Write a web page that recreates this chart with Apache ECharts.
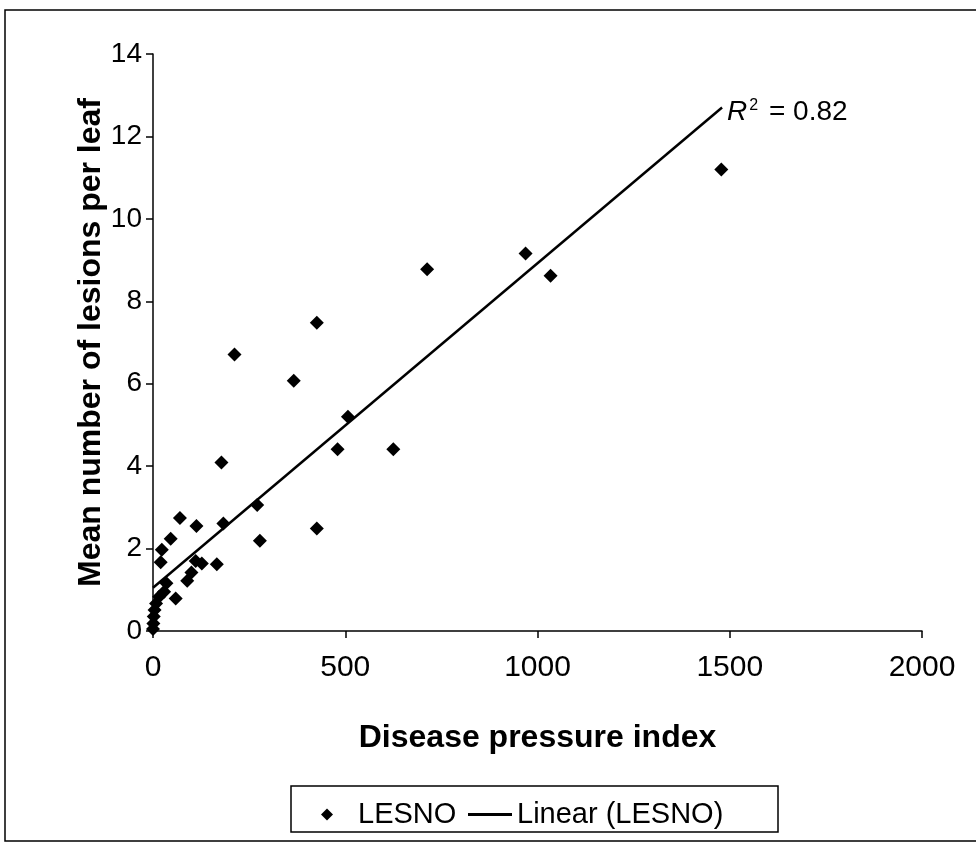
<!DOCTYPE html>
<html>
<head>
<meta charset="utf-8">
<script src="https://cdn.jsdelivr.net/npm/echarts@6/dist/echarts.min.js"></script>
<style>
  html, body { margin: 0; padding: 0; background: #fff; }
  #chart { width: 976px; height: 845px; }
</style>
</head>
<body>
<div id="chart"></div>
<script>
// disease pressure index vs. mean lesions per leaf
const pressure = [1478, 1034, 969, 713, 625, 507, 480, 426, 426, 366, 278, 271, 212, 183, 178, 166, 127, 113, 111, 100, 89, 70, 59, 46, 35, 29, 23, 20, 16, 8, 4, 2, 1, 0]
const lesions = [11.2, 8.62, 9.16, 8.78, 4.41, 5.20, 4.41, 7.48, 2.49, 6.07, 2.19, 3.06, 6.71, 2.61, 4.09, 1.62, 1.64, 2.55, 1.70, 1.42, 1.22, 2.74, 0.79, 2.24, 1.16, 0.95, 1.97, 1.67, 0.83, 0.67, 0.51, 0.35, 0.18, 0.05]

// trend line end points as drawn
const trendX = [0, 1480]
const trendY = [1.05, 12.7]
const r2Text = '0.82'

const xTicks = [0, 500, 1000, 1500, 2000]
const yTicks = [0, 2, 4, 6, 8, 10, 12, 14]

const font = "'Liberation Sans', Arial, sans-serif"

const chart = echarts.init(document.getElementById('chart'))

const scatterData = pressure.map((x, i) => [x, lesions[i]])
const trendData = trendX.map((x, i) => [x, trendY[i]])

const option = {
  animation: false,
  backgroundColor: '#fff',
  grid: {
    left: 153,
    right: 54,
    top: 54,
    bottom: 214
  },
  xAxis: {
    type: 'value',
    min: xTicks[0],
    max: xTicks[xTicks.length - 1],
    interval: 500,
    name: 'Disease pressure index',
    nameLocation: 'middle',
    nameGap: 91,
    nameMoveOverlap: false,
    nameTextStyle: { fontFamily: font, fontSize: 32, fontWeight: 'bold', color: '#000' },
    axisLine: { lineStyle: { color: '#000', width: 1.5 } },
    axisTick: { show: true, length: 7, lineStyle: { color: '#000', width: 1.5 } },
    axisLabel: { fontFamily: font, fontSize: 30, color: '#000', margin: 22, formatter: v => String(v) },
    splitLine: { show: false }
  },
  yAxis: {
    type: 'value',
    min: yTicks[0],
    max: yTicks[yTicks.length - 1],
    interval: 2,
    name: 'Mean number of lesions per leaf',
    nameLocation: 'middle',
    nameGap: 46,
    nameMoveOverlap: false,
    nameTextStyle: { fontFamily: font, fontSize: 32, fontWeight: 'bold', color: '#000' },
    axisLine: { show: true, lineStyle: { color: '#000', width: 1.5 } },
    axisTick: { show: true, length: 7, lineStyle: { color: '#000', width: 1.5 } },
    axisLabel: { fontFamily: font, fontSize: 28, color: '#000', margin: 11, formatter: v => String(v) },
    splitLine: { show: false }
  },
  legend: [{
    data: [{ name: 'LESNO', icon: 'diamond' }],
    left: 316,
    top: 795,
    itemWidth: 12,
    itemHeight: 12,
    textStyle: { fontFamily: font, fontSize: 29, color: '#000', padding: [0, 0, 0, 20] },
    selectedMode: false
  }, {
    data: [{ name: 'Linear (LESNO)', icon: 'rect' }],
    left: 463,
    top: 795,
    itemWidth: 44,
    itemHeight: 3,
    textStyle: { fontFamily: font, fontSize: 29, color: '#000' },
    selectedMode: false
  }],
  graphic: [{
    type: 'rect',
    shape: { x: 5, y: 10, width: 1000, height: 831 },
    style: { fill: null, stroke: '#000', lineWidth: 1.5 },
    silent: true
  }, {
    type: 'rect',
    shape: { x: 291, y: 786, width: 487, height: 46 },
    style: { fill: null, stroke: '#000', lineWidth: 1.5 },
    silent: true
  }],
  series: [{
    name: 'LESNO',
    type: 'scatter',
    symbol: 'diamond',
    symbolSize: 14,
    itemStyle: { color: '#000', opacity: 1 },
    data: scatterData,
    z: 3
  }, {
    name: 'Linear (LESNO)',
    type: 'line',
    showSymbol: false,
    lineStyle: { color: '#000', width: 2.5 },
    itemStyle: { color: '#000' },
    data: trendData,
    endLabel: {
      show: true,
      distance: 5,
      offset: [0, 5],
      formatter: '{r|R}{s|2}{t| = ' + r2Text + '}',
      rich: {
        r: { fontStyle: 'italic', fontSize: 28, fontFamily: font, color: '#000', lineHeight: 30 },
        s: { fontSize: 16, fontFamily: font, color: '#000', padding: [0, 3, 14, 2] },
        t: { fontSize: 28, fontFamily: font, color: '#000', lineHeight: 30 }
      }
    },
    z: 2
  }]
}

chart.setOption(option)
</script>
</body>
</html>
